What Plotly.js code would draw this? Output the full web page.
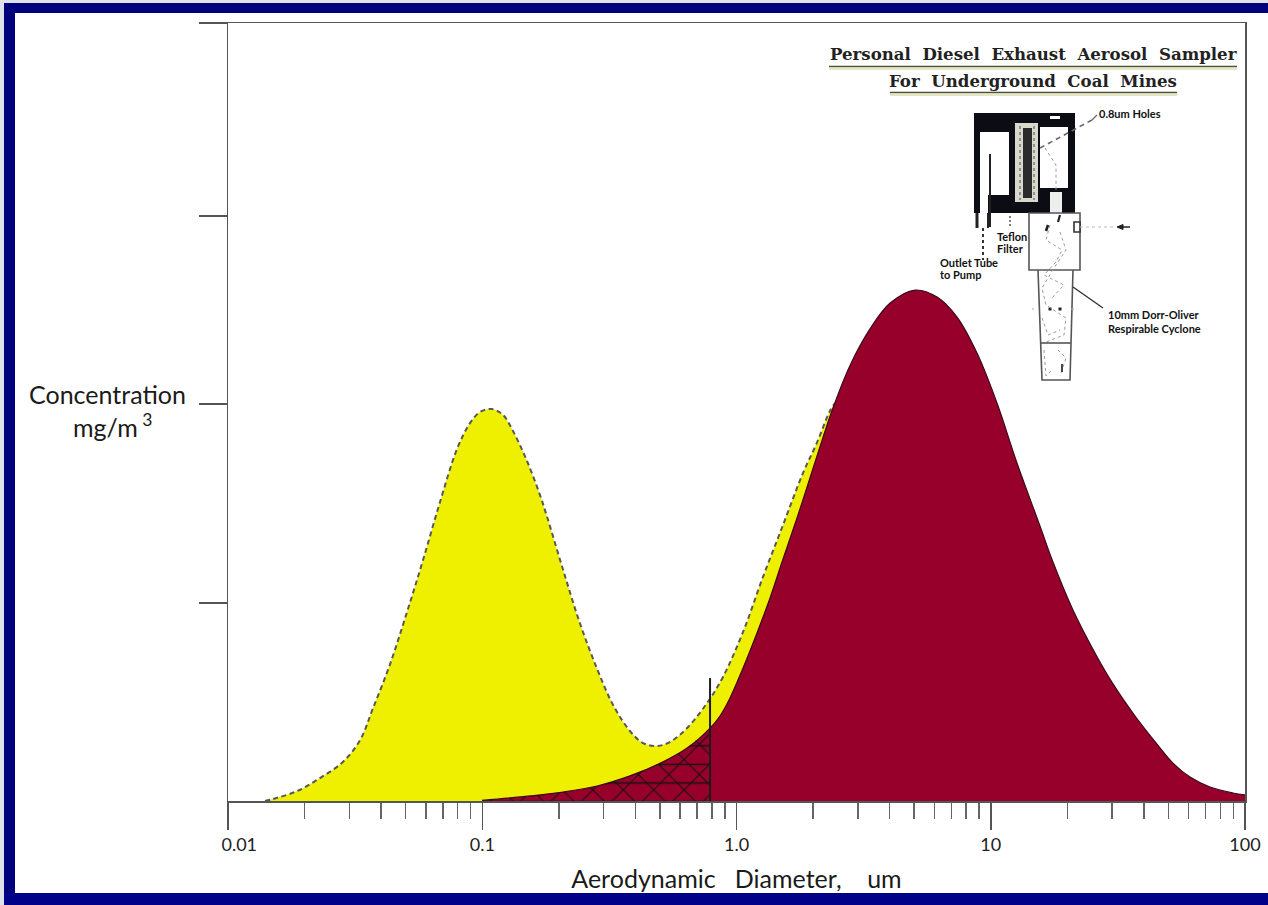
<!DOCTYPE html>
<html>
<head>
<meta charset="utf-8">
<script src="https://cdn.plot.ly/plotly-3.0.1.min.js"></script>
<style>
html,body{margin:0;padding:0;width:1268px;height:905px;overflow:hidden;background:#fff}
#f1,#f2,#f3,#f4{position:absolute}
#f1{left:0;top:0;width:4px;height:905px;background:#dfe2ea}
#f2{left:0;top:0;width:1268px;height:3px;background:#dfe2ea}
#f3{left:4px;top:3px;width:11px;height:902px;background:#00007c}
#f4{left:4px;top:3px;width:1264px;height:10px;background:#00007c}
#f5{position:absolute;left:4px;top:893px;width:1264px;height:12px;background:#000088}
#chart{position:absolute;left:0;top:0;width:1268px;height:905px}
</style>
</head>
<body>
<div id="f1"></div><div id="f2"></div><div id="f3"></div><div id="f4"></div><div id="f5"></div>
<div id="chart"></div>
<script>
// Total aerosol (yellow, dashed outline)
const totalDiameter = [0.01398,0.0150,0.0187,0.0230,0.0283,0.0331,0.0372,0.0434,0.0506,0.0585,0.0682,0.0796,0.0895,0.098,0.1092,0.1207,0.1321,0.150,0.1687,0.180,0.208,0.242,0.283,0.327,0.381,0.429,0.487,0.547,0.639,0.766,0.885,1.061,1.271,1.524,1.826,2.07,2.33,2.44];
const totalConc = [0,0.010,0.051,0.118,0.201,0.314,0.478,0.704,0.972,1.239,1.537,1.810,1.943,2.000,2.015,1.985,1.902,1.748,1.573,1.460,1.188,0.915,0.679,0.494,0.360,0.298,0.283,0.303,0.375,0.504,0.638,0.869,1.152,1.419,1.686,1.841,2.005,2.046];
// Respirable dust (dark red)
const dustDiameter = [0.0998,0.154,0.208,0.283,0.381,0.514,0.639,0.787,0.861,0.943,1.061,1.204,1.355,1.524,1.73,1.945,2.19,2.396,2.79,3.35,4.02,5.04,6.15,7.37,8.83,10.58,12.68,15.62,17.57,21.06,25.70,30.26,36.94,45.06,52.09,60.78,72.85,89.7,100];
const dustConc = [0.003,0.026,0.046,0.077,0.129,0.201,0.272,0.375,0.437,0.530,0.684,0.864,1.044,1.244,1.455,1.661,1.871,2.021,2.237,2.427,2.560,2.627,2.591,2.488,2.303,2.046,1.738,1.414,1.229,0.982,0.761,0.602,0.437,0.293,0.195,0.123,0.072,0.041,0.031];
// Cut point marker
const cutDiameter = [0.787,0.787];
const cutConc = [0,0.632];
// Axes
const xMajorVals = [0.01,0.1,1,10,100];
const xMajorText = ['\u2003\u20020.01','0.1','1.0','10','100'];
const xMinorVals = [0.02,0.03,0.04,0.05,0.06,0.07,0.08,0.09,0.2,0.3,0.4,0.5,0.6,0.7,0.8,0.9,2,3,4,5,6,7,8,9,20,30,40,50,60,70,80,90];
const yTickVals = [1.018,2.041,3.008,4];

const W=1268,H=905,L=228,R=23,T=23,B=104,PW=W-L-R,PH=H-T-B;
const px=x=>(x-L)/PW, py=y=>1-(y-T)/PH;
const hatchX=dustDiameter.filter(d=>d<=0.787), hatchY=dustConc.slice(0,hatchX.length);

const traces=[
 {x:totalDiameter,y:totalConc,type:'scatter',mode:'lines',fill:'tozeroy',fillcolor:'#eff000',
  line:{color:'#585858',width:2,dash:'5px,3.5px',shape:'spline',smoothing:1},hoverinfo:'skip'},
 {x:dustDiameter,y:dustConc,type:'scatter',mode:'lines',fill:'tozeroy',fillcolor:'#96002a',
  line:{color:'#3c0a1e',width:1.2,shape:'spline',smoothing:1},hoverinfo:'skip'},
 {x:hatchX,y:hatchY,type:'scatter',mode:'none',fill:'tozeroy',fillcolor:'rgba(0,0,0,0)',
  fillpattern:{shape:'x',size:21.5,solidity:0.1,fgcolor:'#1a1012',bgcolor:'rgba(0,0,0,0)'},hoverinfo:'skip'},
 {x:hatchX,y:hatchY,type:'scatter',mode:'none',fill:'tozeroy',fillcolor:'rgba(0,0,0,0)',
  fillpattern:{shape:'-',size:18.6,solidity:0.08,fgcolor:'#1a1012',bgcolor:'rgba(0,0,0,0)'},hoverinfo:'skip'},
 {x:cutDiameter,y:cutConc,type:'scatter',mode:'lines',line:{color:'#1c1c1c',width:2},hoverinfo:'skip'}
];

// Helpers for the sampler sketch, in screen-like coordinates
const rect=(x0,y0,x1,y1,fill,lc,lw)=>({type:'rect',xref:'paper',yref:'paper',x0:px(x0),x1:px(x1),y0:py(y0),y1:py(y1),
  fillcolor:fill||'rgba(0,0,0,0)',line:{color:lc||'rgba(0,0,0,0)',width:lw||0}});
const seg=(x0,y0,x1,y1,c,w,d)=>({type:'line',xref:'paper',yref:'paper',x0:px(x0),x1:px(x1),y0:py(y0),y1:py(y1),
  line:{color:c,width:w,dash:d||'solid'}});
const path=(pts,c,w,d,fill)=>({type:'path',xref:'paper',yref:'paper',
  path:pts.map((p,i)=>(i?'L':'M')+' '+px(p[0])+','+py(p[1])).join(' '),
  line:{color:c,width:w,dash:d||'solid'},fillcolor:fill||'rgba(0,0,0,0)'});

const squiggle=(pts)=>path(pts,'#9a9a9a',1,'dot');

const shapes=[
 // title rules
 seg(829,66.5,1237,66.5,'#4d5030',1.6), seg(829,69,1237,69,'#c9cc88',1),
 seg(890,92.5,1177,92.5,'#4d5030',1.6), seg(890,95,1177,95,'#c9cc88',1),
 // sampler body
 rect(974,113,1075,213,'#0c0c14'),
 rect(980,132,1009,195,'#ffffff'), rect(980,195,988,216,'#ffffff'),
 rect(1015,123,1038,202,'#d8d8cc'), rect(1023,128,1032,198,'#2b2b2b'),
 seg(1020,126,1020,200,'#8f8f8f',2,'dot'), seg(1034,126,1034,200,'#8f8f8f',2,'dot'),
 rect(1040,127,1068,188,'#ffffff'), rect(1050,116,1060,119,'#ffffff'),
 rect(1050,192,1062,213,'#eeeeee'),
 seg(990,154,990,227,'#222222',2), seg(977,213,977,228,'#222222',3), seg(988,213,988,228,'#222222',2),
 seg(983,228,983,260,'#333333',2,'3px,3px'), seg(1010,216,1010,226,'#555555',1.5,'2px,2px'),
 seg(1040,148,1092,120,'#666666',1.6,'5px,4px'), seg(1092,120,1097,115,'#666666',1.2),
 squiggle([[1045,148],[1056,165],[1056,192]]),
 // cyclone
 rect(1029,213,1080,270,'#ffffff','#555555',1.6),
 rect(1074,222,1080,232,'#ffffff','#333333',1.6),
 seg(1080,227,1116,227,'#bbbbbb',1,'dot'),
 seg(1118,227,1130,227,'#222222',1.5),
 path([[1117,227],[1123,224.5],[1123,229.5],[1117,227]],'#222222',1,'solid','#222222'),
 path([[1038,270],[1042,380],[1070,380],[1073,270]],'#555555',1.6),
 seg(1040,343,1071,343,'#555555',1.6),
 seg(1073,287,1103,308,'#333333',1.4),
 seg(1048,225,1046,231,'#222222',2.6), seg(1060,215,1058,222,'#222222',2.2),
 rect(1048.5,307.5,1051.5,310.5,'#222222'), rect(1058.5,307.5,1061.5,310.5,'#222222'),
 seg(1032,309,1034,309,'#aaaaaa',1), seg(1071,309,1076,309,'#aaaaaa',1,'dot'),
 squiggle([[1050,225],[1046,240],[1062,250],[1056,262],[1044,275],[1064,285],[1052,298]]),
 squiggle([[1060,232],[1066,250],[1054,268],[1042,288],[1046,305],[1066,318],[1064,335],[1046,342]]),
 squiggle([[1042,318],[1048,335],[1060,330]]),
 squiggle([[1044,350],[1046,376],[1052,370]]), squiggle([[1058,350],[1066,358],[1060,376]]),
 seg(1062,372,1062,364,'#333333',1.8)
];

const small=(text,x,y,anchor)=>({xref:'paper',yref:'paper',x:px(x),y:py(y),text:text,showarrow:false,xanchor:anchor||'left',yanchor:'middle',
  align:'left',font:{family:'Lato, sans-serif',size:11,color:'#111',weight:700}});
const serif=(text,x,y)=>({xref:'paper',yref:'paper',x:px(x),y:py(y),text:text,showarrow:false,xanchor:'center',yanchor:'middle',
  font:{family:'"DejaVu Serif", serif',size:16.6,color:'#222',weight:700}});
const sans=(text,x,y)=>({xref:'paper',yref:'paper',x:px(x),y:py(y),text:text,showarrow:false,xanchor:'center',yanchor:'middle',
  font:{family:'Lato, sans-serif',size:25,color:'#1a1a1a'}});

const annotations=[
 serif('Personal\u00a0\u00a0Diesel\u00a0\u00a0Exhaust\u00a0\u00a0Aerosol\u00a0\u00a0Sampler',1033,54),
 serif('For\u00a0\u00a0Underground\u00a0\u00a0Coal\u00a0\u00a0Mines',1033,81),
 sans('Concentration',107,394),
 sans('mg/m<sup> 3</sup>',112,426),
 small('0.8um Holes',1097,113),
 small('Teflon',995,236), small('Filter',995,248),
 small('Outlet Tube',938,262), small('to Pump',938,274),
 small('10mm Dorr-Oliver',1106,315), small('Respirable Cyclone',1106,328)
];

const layout={
 width:W,height:H,margin:{l:L,r:R,t:T,b:B,pad:0},
 paper_bgcolor:'rgba(0,0,0,0)',plot_bgcolor:'#ffffff',showlegend:false,
 xaxis:{type:'log',range:[-2,2],tickmode:'array',tickvals:xMajorVals,ticktext:xMajorText,ticks:'outside',ticklen:27,tickwidth:1.5,tickcolor:'#555',
  minor:{tickmode:'array',tickvals:xMinorVals,ticks:'outside',ticklen:16,tickwidth:1.5,tickcolor:'#666'},
  showgrid:false,zeroline:false,showline:true,mirror:true,linecolor:'#555',linewidth:1.5,
  tickfont:{family:'Lato, sans-serif',size:18,color:'#222'},
  title:{text:'Aerodynamic\u00a0\u00a0\u00a0Diameter,\u00a0\u00a0\u00a0\u00a0um',standoff:16,font:{family:'Lato, sans-serif',size:25,color:'#1a1a1a'}}},
 yaxis:{range:[0,4],tickmode:'array',tickvals:yTickVals,showticklabels:false,ticks:'outside',ticklen:28,tickwidth:1.5,tickcolor:'#555',
  showgrid:false,zeroline:false,showline:true,mirror:true,linecolor:'#555',linewidth:1.5},
 shapes:shapes,annotations:annotations
};

Plotly.newPlot('chart',traces,layout,{displayModeBar:false,staticPlot:true}).then(()=>{
  // stretch the cross-hatch vertically so its cells become triangles, and line the rows up
  document.querySelectorAll('pattern').forEach(p=>{
    const h=+p.getAttribute('height');
    if(h>20) p.setAttribute('patternTransform','translate(8,16) scale(1,1.73)');
    else p.setAttribute('patternTransform','translate(0,6.7)');
  });
});
</script>
</body>
</html>
